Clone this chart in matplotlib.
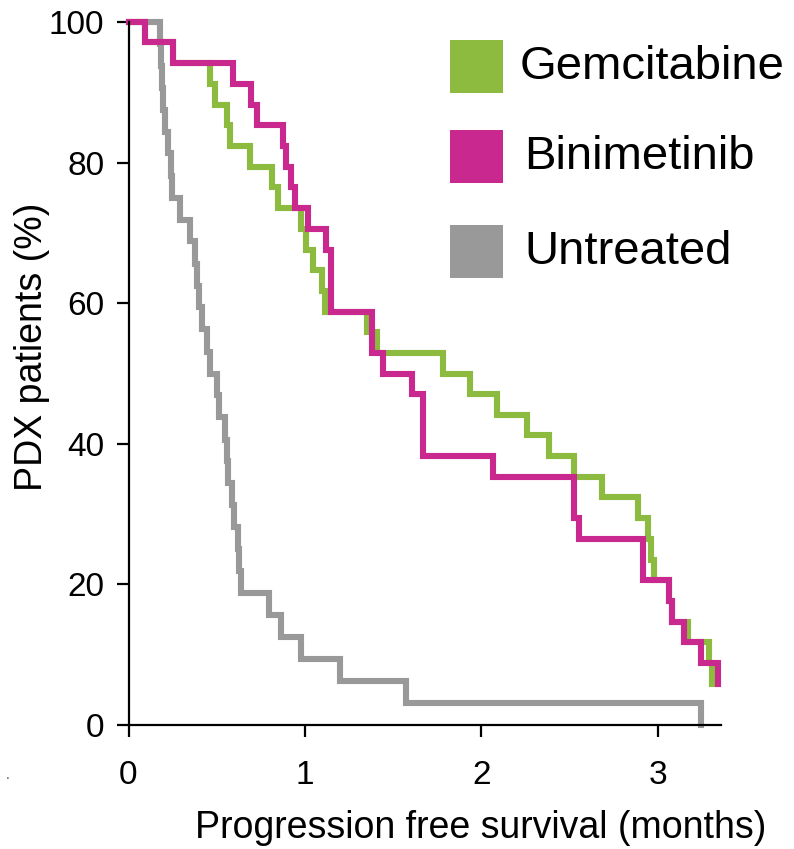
import matplotlib
matplotlib.use("Agg")
import matplotlib.pyplot as plt
from matplotlib.patches import Rectangle

plt.rcParams['font.family'] = ['Liberation Sans', 'DejaVu Sans']

# ---- data (months, % progression-free) ----
gem_t = [0, 0.093, 0.25, 0.462, 0.490, 0.560, 0.575, 0.688, 0.811, 0.849, 0.977, 1.003,
         1.043, 1.095, 1.113, 1.353, 1.406, 1.784, 1.935, 2.090, 2.260, 2.383, 2.522,
         2.684, 2.888, 2.945, 2.958, 2.980, 3.060, 3.080, 3.170, 3.290, 3.305]
gem_s = [100, 97.1, 94.1, 91.2, 88.2, 85.3, 82.4, 79.4, 76.5, 73.5, 70.6, 67.6,
         64.7, 61.8, 58.8, 55.9, 52.9, 50.0, 47.1, 44.1, 41.2, 38.2, 35.3,
         32.4, 29.4, 26.5, 23.5, 20.6, 17.6, 14.7, 11.8, 8.8, 5.9]

bin_t = [0, 0.093, 0.25, 0.594, 0.692, 0.726, 0.874, 0.892, 0.919, 0.945, 1.016, 1.118,
         1.149, 1.378, 1.444, 1.604, 1.670, 2.063, 2.522, 2.552, 2.913, 3.060, 3.080,
         3.150, 3.242, 3.340]
bin_s = [100, 97.1, 94.1, 91.2, 88.2, 85.3, 82.4, 79.4, 76.5, 73.5, 70.6, 67.6,
         58.8, 52.9, 50.0, 47.1, 38.2, 35.3, 29.4, 26.5, 20.6, 17.6, 14.7,
         11.8, 8.8, 5.9]

unt_t = [0, 0.178, 0.184, 0.190, 0.195, 0.207, 0.226, 0.240, 0.245, 0.292, 0.348, 0.377,
         0.390, 0.400, 0.415, 0.446, 0.459, 0.500, 0.513, 0.547, 0.558, 0.565, 0.588,
         0.598, 0.619, 0.626, 0.635, 0.798, 0.864, 0.976, 1.198, 1.571, 3.242]
unt_s = [100, 96.9, 93.8, 90.6, 87.5, 84.4, 81.3, 78.1, 75.0, 71.9, 68.8, 65.6,
         62.5, 59.4, 56.3, 53.1, 50.0, 46.9, 43.8, 40.6, 37.5, 34.4, 31.3,
         28.1, 25.0, 21.9, 18.8, 15.6, 12.5, 9.4, 6.3, 3.1, 0]

labels = ["Gemcitabine", "Binimetinib", "Untreated"]
colors = ["#8cbb3f", "#c9288e", "#999999"]
x_ticks = [0, 1, 2, 3]
y_ticks = [0, 20, 40, 60, 80, 100]

W, H = 794, 849
fig = plt.figure(figsize=(W / 100, H / 100), dpi=100)
ax = fig.add_axes([128.5 / W, 1 - 725 / H, (721 - 128.5) / W, (725 - 22) / H])

lw = 4.4
ax.plot(unt_t, unt_s, drawstyle='steps-post', color=colors[2], lw=lw,
        solid_joinstyle='miter', zorder=2, clip_on=False)
ax.plot(gem_t, gem_s, drawstyle='steps-post', color=colors[0], lw=lw,
        solid_joinstyle='miter', zorder=3, clip_on=False)
ax.plot(bin_t, bin_s, drawstyle='steps-post', color=colors[1], lw=lw,
        solid_joinstyle='miter', zorder=4, clip_on=False)

ax.set_xlim(0, 3.357)
ax.set_ylim(0, 100)
ax.set_xticks(x_ticks)
ax.set_yticks(y_ticks)
for s in ['top', 'right']:
    ax.spines[s].set_visible(False)
for s in ['left', 'bottom']:
    ax.spines[s].set_linewidth(1.6)
    ax.spines[s].set_color('black')
    ax.spines[s].set_zorder(6)
ax.tick_params(axis='both', direction='out', length=8.5, width=1.6, labelsize=24,
               colors='black')
ax.tick_params(axis='y', pad=9)
ax.tick_params(axis='x', pad=17)

fig.text(481 / W, 1 - 828 / H, "Progression free survival (months)", fontsize=27,
         ha='center', va='center')
fig.text(32 / W, 1 - 347 / H, "PDX patients (%)", fontsize=27, rotation=90,
         ha='center', va='center')
fig.text(8 / W, 1 - 775 / H, ".", fontsize=10, ha='center', va='center', color='#555555')

# legend
sq_top = [40, 130, 225]
txt_x = [520, 524, 524]
for lab, col, top, tx in zip(labels, colors, sq_top, txt_x):
    fig.add_artist(Rectangle((450 / W, 1 - (top + 53) / H), 53 / W, 53 / H,
                             transform=fig.transFigure, facecolor=col, edgecolor='none'))
    fig.text(tx / W, 1 - (top + 27) / H, lab, fontsize=34, ha='left', va='center')

fig.savefig("out.png", dpi=100)
